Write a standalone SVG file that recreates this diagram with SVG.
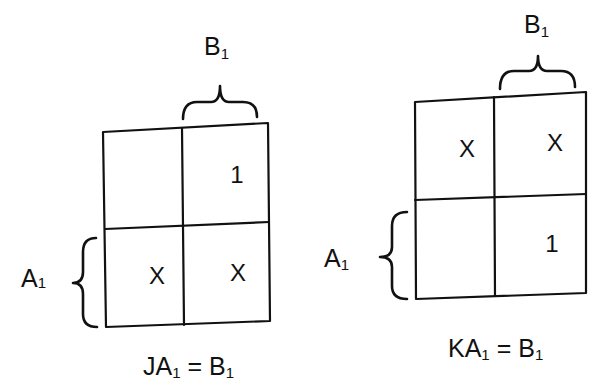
<svg xmlns="http://www.w3.org/2000/svg" width="594" height="385" viewBox="0 0 594 385">
<style>
.ln{fill:none;stroke:#111;stroke-width:2.2;stroke-linejoin:round;stroke-linecap:round}
.br{fill:none;stroke:#111;stroke-width:2.6;stroke-linejoin:round;stroke-linecap:round}
text{font-family:"Liberation Sans","DejaVu Sans",sans-serif;fill:#111}
.big{font-size:25px}
.cell{font-size:24px;text-anchor:middle}
.sub{font-size:15px}
</style>
<rect width="594" height="385" fill="#fff"/>
<g id="map-j">
<polygon class="ln" points="103,132 268,123 270,321 106,327"/>
<line class="ln" x1="182" y1="128" x2="184" y2="325"/>
<line class="ln" x1="105" y1="229" x2="269" y2="222"/>
<text class="cell" x="237" y="183" font-size="27">1</text>
<text class="cell" x="157" y="284">X</text>
<text class="cell" x="238" y="281">X</text>
</g>
<g id="map-k">
<polygon class="ln" points="415,102 586,92 586,293 416,299"/>
<line class="ln" x1="494" y1="97" x2="495" y2="296"/>
<line class="ln" x1="415" y1="200" x2="586" y2="194"/>
<text class="cell" x="467" y="157">X</text>
<text class="cell" x="555" y="151">X</text>
<text class="cell" x="552" y="252" font-size="27">1</text>
</g>
<g id="labels">
<path class="br" d="M183,119 Q183,102 197,102 L211,102 Q220,102 220,86 Q220,102 229,102 L243,102 Q257,102 257,117"/>
<path class="br" d="M96,238 Q83,238 83,252 L83,272 Q83,283 73,283 Q83,283 83,294 L83,314 Q83,327 97,327"/>
<path class="br" d="M500,89 Q500,71 514,71 L529,71 Q538,71 538,56 Q538,71 547,71 L561,71 Q575,71 575,87"/>
<path class="br" d="M407,212 Q392,212 392,226 L392,247 Q392,257 380,257 Q392,257 392,267 L392,286 Q392,299 407,299"/>
<text class="big" x="204" y="55">B<tspan class="sub" dy="4">1</tspan></text>
<text class="big" x="524" y="33">B<tspan class="sub" dy="4">1</tspan></text>
<text class="big" x="21" y="287">A<tspan class="sub" dy="1">1</tspan></text>
<text class="big" x="324" y="267">A<tspan class="sub" dy="3">1</tspan></text>
<text class="big" x="143" y="375">JA<tspan class="sub" dy="3">1</tspan><tspan dy="-3"> = B</tspan><tspan class="sub" dy="3">1</tspan></text>
<text class="big" x="448" y="357">KA<tspan class="sub" dy="3">1</tspan><tspan dy="-3"> = B</tspan><tspan class="sub" dy="3">1</tspan></text>
</g>
</svg>
